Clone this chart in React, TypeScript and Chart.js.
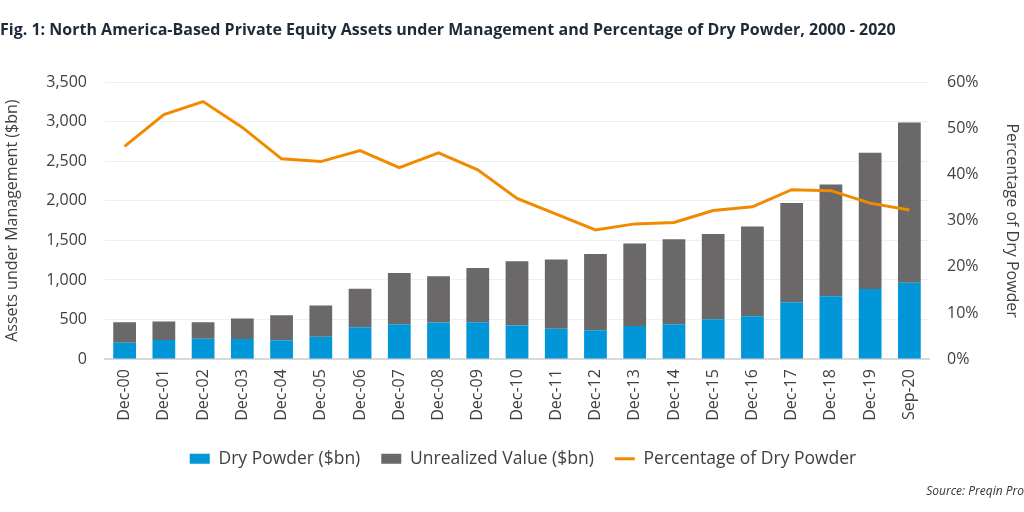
import React, { useEffect, useRef } from "react";
import { Chart, registerables } from "chart.js";

Chart.register(...registerables);

const categories = [
  "Dec-00", "Dec-01", "Dec-02", "Dec-03", "Dec-04", "Dec-05", "Dec-06",
  "Dec-07", "Dec-08", "Dec-09", "Dec-10", "Dec-11", "Dec-12", "Dec-13",
  "Dec-14", "Dec-15", "Dec-16", "Dec-17", "Dec-18", "Dec-19", "Sep-20",
];
const dryPowder = [208, 241, 258, 254, 237, 284, 402, 440, 462, 466, 426, 385, 364, 419, 440, 504, 542, 720, 796, 885, 966];
const unrealizedValue = [258, 233, 208, 258, 318, 394, 487, 648, 584, 686, 811, 873, 966, 1042, 1076, 1076, 1135, 1254, 1411, 1724, 2024];
const dryPowderPct = [46.1, 53.0, 55.8, 50.2, 43.4, 42.8, 45.2, 41.5, 44.7, 41.0, 34.8, 31.4, 28.0, 29.3, 29.6, 32.2, 33.0, 36.7, 36.5, 33.8, 32.3];
const leftTicks = [0, 500, 1000, 1500, 2000, 2500, 3000, 3500];
const rightTicks = [0, 10, 20, 30, 40, 50, 60];

const FONT = "'Open Sans', 'Noto Sans', sans-serif";
const TEXT = "#404040";

const legendShift = {
  id: "legendShift",
  afterLayout(chart: any) {
    if (chart.legend) {
      chart.legend.left += 11;
      chart.legend.right += 11;
    }
  },
};

export default function App() {
  const ref = useRef<HTMLCanvasElement | null>(null);
  useEffect(() => {
    document.body.style.margin = "0";
    const ctx = ref.current!;
    const chart = new Chart(ctx, {
      type: "bar",
      data: {
        labels: categories,
        datasets: [
          {
            type: "line",
            label: "Percentage of Dry Powder",
            data: dryPowderPct,
            yAxisID: "y1",
            borderColor: "#f28a00",
            backgroundColor: "#f28a00",
            borderWidth: 3,
            pointRadius: 0,
            pointStyle: "line",
            tension: 0,
            order: 0,
          } as any,
          {
            label: "Dry Powder ($bn)",
            data: dryPowder,
            backgroundColor: "#0096d8",
            borderWidth: 0,
            pointStyle: "rect",
            yAxisID: "y",
            order: 1,
          } as any,
          {
            label: "Unrealized Value ($bn)",
            data: unrealizedValue,
            backgroundColor: "#6a6868",
            borderWidth: 0,
            pointStyle: "rect",
            yAxisID: "y",
            order: 2,
          } as any,
        ],
      },
      options: {
        animation: false,
        responsive: false,
        devicePixelRatio: 1,
        layout: { padding: 0 },
        datasets: { bar: { barPercentage: 0.58, categoryPercentage: 1 } } as any,
        plugins: {
          title: {
            display: true,
            text: "Fig. 1: North America-Based Private Equity Assets under Management and Percentage of Dry Powder, 2000 - 2020",
            align: "start",
            color: "#1c2a39",
            font: { family: FONT, size: 16, weight: "bold" },
            padding: { top: 21, bottom: 42 },
          },
          subtitle: {
            display: true,
            position: "bottom",
            text: "Source: Preqin Pro",
            align: "end",
            color: "#333333",
            font: { family: FONT, size: 12, style: "italic" },
            padding: { top: 7, bottom: 13 },
          },
          legend: {
            position: "bottom",
            labels: {
              usePointStyle: true,
              pointStyleWidth: 20,
              boxHeight: 10,
              padding: 21,
              color: TEXT,
              font: { family: FONT, size: 17.5 },
              sort: (a: any, b: any) => {
                const o: any = { "Dry Powder ($bn)": 0, "Unrealized Value ($bn)": 1, "Percentage of Dry Powder": 2 };
                return o[a.text] - o[b.text];
              },
            },
          },
          tooltip: { enabled: false },
        },
        scales: {
          x: {
            stacked: true,
            grid: { display: false, drawTicks: false },
            border: { color: "#d9d9d9", width: 2 },
            ticks: {
              color: TEXT,
              font: { family: FONT, size: 16 },
              maxRotation: 90,
              minRotation: 90,
              padding: 10,
              autoSkip: false,
            },
            afterFit: (s: any) => {
              s.height = 70;
              s.paddingLeft = 0;
              s.paddingRight = 0;
            },
          },
          y: {
            stacked: true,
            position: "left",
            min: 0,
            max: 3500,
            afterBuildTicks: (s: any) => {
              s.ticks = leftTicks.map((v) => ({ value: v }));
            },
            afterFit: (s: any) => {
              s.width = 105;
            },
            grid: { color: "#efefef", drawTicks: false },
            border: { display: false },
            ticks: {
              color: TEXT,
              font: { family: FONT, size: 16 },
              padding: 18,
              callback: (v: any) => Number(v).toLocaleString("en-US"),
            },
            title: {
              display: true,
              text: "Assets under Management ($bn)",
              color: TEXT,
              font: { family: FONT, size: 16 },
              padding: { top: 3, bottom: 19 },
            },
          },
          y1: {
            position: "right",
            min: 0,
            max: 60,
            afterBuildTicks: (s: any) => {
              s.ticks = rightTicks.map((v) => ({ value: v }));
            },
            afterFit: (s: any) => {
              s.width = 95;
            },
            grid: { display: false, drawTicks: false },
            border: { display: false },
            ticks: {
              color: TEXT,
              font: { family: FONT, size: 16 },
              padding: 18,
              callback: (v: any) => v + "%",
            },
            title: {
              display: true,
              text: "Percentage of Dry Powder",
              color: TEXT,
              font: { family: FONT, size: 16 },
              padding: { top: 3, bottom: 19 },
            },
          },
        },
      },
      plugins: [legendShift],
    });
    return () => chart.destroy();
  }, []);
  return (
    <div style={{ width: 1024, height: 512 }}>
      <canvas ref={ref} width={1024} height={512} />
    </div>
  );
}
